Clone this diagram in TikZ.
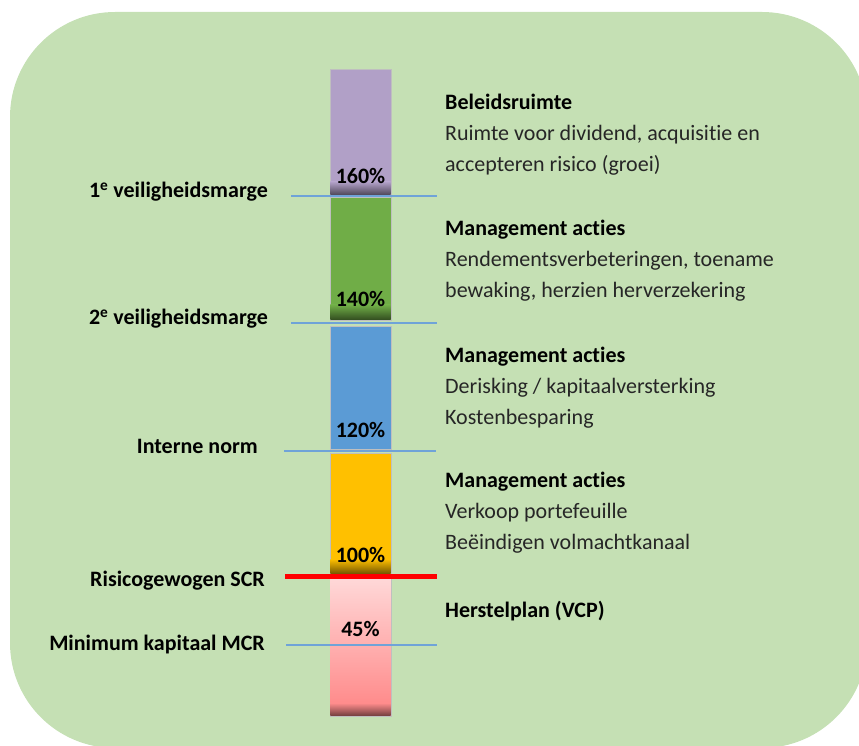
\documentclass[tikz,border=0pt]{standalone}
\usepackage{fontspec}
\setmainfont{Carlito}[Ligatures=NoCommon]

\definecolor{bggreen}{HTML}{C5E0B4}
\definecolor{segpurple}{HTML}{B1A0C7}
\definecolor{seggreen}{HTML}{70AD47}
\definecolor{segblue}{HTML}{5B9BD5}
\definecolor{seggold}{HTML}{FFC000}
\definecolor{pinktop}{HTML}{FFD8D8}
\definecolor{pinkbot}{HTML}{FF8C8C}
\definecolor{levelblue}{HTML}{6FA3D8}

\begin{document}
\begin{tikzpicture}[x=1pt,y=1pt,
    seg/.style={draw=black!25, line width=0.6pt},
    level/.style={draw=levelblue, line width=1.6pt},
    scr/.style={draw=red, line width=5pt},
    pct/.style={anchor=base, inner sep=0pt, font=\fontsize{22}{25}\selectfont\bfseries},
    side/.style={anchor=base east, inner sep=0pt, font=\fontsize{22}{25}\selectfont\bfseries},
    note/.style={anchor=base west, inner sep=0pt, align=left, text=black!85,
      font=\fontsize{22}{31}\selectfont}]
    \useasboundingbox (0,0) rectangle (859,745);
    \clip (0,0) rectangle (859,745);

    % Background:
    \fill[bggreen, rounded corners=105pt] (10,-3) rectangle (867,733);

    % Column, top to bottom:
    \filldraw[seg, fill=segpurple] (330,550) rectangle (391,676);
    \shade[top color=segpurple, bottom color=segpurple!45!black] (330.3,550.3) rectangle (390.7,563);
    \filldraw[seg, fill=seggreen] (330,425) rectangle (391,548);
    \shade[top color=seggreen, bottom color=seggreen!45!black] (330.3,425.3) rectangle (390.7,440);
    \filldraw[seg, fill=segblue] (330,296) rectangle (391,419);
    \filldraw[seg, fill=seggold] (330,171) rectangle (391,292);
    \shade[top color=seggold, bottom color=seggold!45!black] (330.3,171.3) rectangle (390.7,186);
    \filldraw[seg, fill=pinkbot] (330,29) rectangle (391,167);
    \shade[top color=pinktop, bottom color=pinkbot] (330.3,42) rectangle (390.7,166.7);
    \shade[top color=pinkbot, bottom color=pinkbot!45!black] (330.3,29.3) rectangle (390.7,42);

    % Percentages:
    \node[pct] (p160) at (360.5,561) {160\%};
    \node[pct] (p140) at (360.5,438) {140\%};
    \node[pct] (p120) at (360.5,307) {120\%};
    \node[pct] (p100) at (360.5,183) {100\%};
    \node[pct] (p45) at (360.5,109) {45\%};

    % Levels:
    \coordinate (m1l) at (291,549);  \coordinate (m1r) at (437,549);
    \coordinate (m2l) at (291,422);  \coordinate (m2r) at (437,422);
    \coordinate (inl) at (284,294);  \coordinate (inr) at (436,294);
    \coordinate (scrl) at (285,169); \coordinate (scrr) at (437,169);
    \coordinate (mcrl) at (286,100); \coordinate (mcrr) at (437,100);
    \draw[level] (m1l) -- (m1r);
    \draw[level] (m2l) -- (m2r);
    \draw[level] (inl) -- (inr);
    \draw[level] (mcrl) -- (mcrr);
    \draw[scr] (scrl) -- (scrr);

    % Left labels:
    \node[side] (marge1) at (268,547) {1\textsuperscript{e} veiligheidsmarge};
    \node[side] (marge2) at (268,420) {2\textsuperscript{e} veiligheidsmarge};
    \node[side] (norm) at (258,291) {Interne norm};
    \node[side] (scr) at (265,159) {Risicogewogen SCR};
    \node[side] (mcr) at (265,95) {Minimum kapitaal MCR};

    % Right texts (base = last line):
    \node[note] (beleid) at (445,573) {\textbf{\color{black}Beleidsruimte}\\Ruimte voor dividend, acquisitie en\\accepteren risico (groei)};
    \node[note] (acties1) at (445,447) {\textbf{\color{black}Management acties}\\Rendementsverbeteringen, toename\\bewaking, herzien herverzekering};
    \node[note] (acties2) at (445,320) {\textbf{\color{black}Management acties}\\Derisking / kapitaalversterking\\Kostenbesparing};
    \node[note] (acties3) at (445,196) {\textbf{\color{black}Management acties}\\Verkoop portefeuille\\Beëindigen volmachtkanaal};
    \node[note] (herstel) at (445,128) {\textbf{\color{black}Herstelplan (VCP)}};
  \end{tikzpicture}
\end{document}
